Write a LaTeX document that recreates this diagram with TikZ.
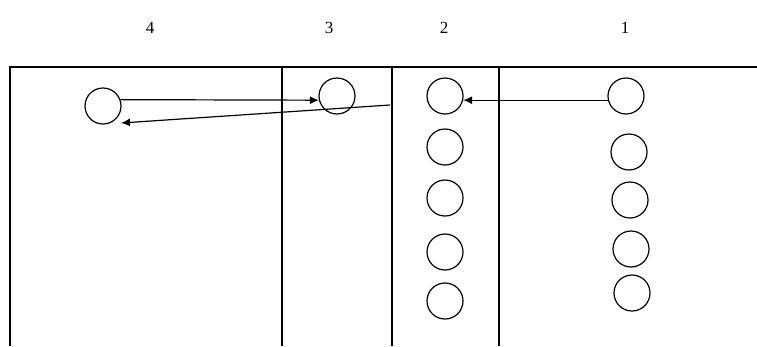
\documentclass[tikz,border=0pt]{standalone}
\usepackage{fontspec}
\setmainfont{Liberation Serif}
\usetikzlibrary{arrows.meta}

\begin{document}
\begin{tikzpicture}[x=1pt, y=-1pt, line width=1.4pt, main/.style = {draw, circle, minimum size=36pt, inner sep=0pt, line width=1.2pt}, num/.style = {font=\fontsize{17}{17}\selectfont}, link/.style = {-{Latex[length=9pt,width=8pt]}, line width=1.2pt}]
        \useasboundingbox (0,0) rectangle (757,346);
        % columns
        \draw (10,346) -- (10,67) -- (757,67);
        \draw (282,67) -- (282,346);
        \draw (392,67) -- (392,346);
        \draw (499,67) -- (499,346);
        \node[num] (l4) at (150,28) {4};
        \node[num] (l3) at (329,28) {3};
        \node[num] (l2) at (444,28) {2};
        \node[num] (l1) at (625,28) {1};
        % circles
        \node[main] (4) at (103,106) {};
        \node[main] (3) at (337,96) {};
        \node[main] (2a) at (445,96) {};
        \node[main] (2b) at (445,147) {};
        \node[main] (2c) at (445,198) {};
        \node[main] (2d) at (445,252) {};
        \node[main] (2e) at (445,301) {};
        \node[main] (1a) at (626,96) {};
        \node[main] (1b) at (629,152) {};
        \node[main] (1c) at (630,200) {};
        \node[main] (1d) at (631,249) {};
        \node[main] (1e) at (632,293) {};
        \coordinate (back) at (390,105);
        \coordinate (end) at (121,123);
        \draw[link] (4.20) -- (3.193);
        \draw[link] (back) -- (end);
        \draw[link] (1a.193) -- (2a.-13);
    \end{tikzpicture}
\end{document}
